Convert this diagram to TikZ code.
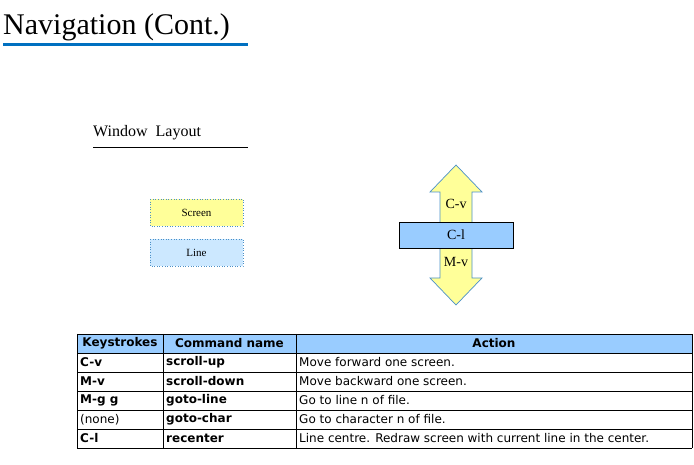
\documentclass[tikz,border=0pt]{standalone}
\usepackage{fontspec}
\setmainfont{Liberation Serif}
\newfontfamily\tabfont{DejaVu Sans}
\definecolor{ttlblue}{HTML}{0070C0}
\definecolor{hdrblue}{HTML}{99CCFF}
\definecolor{ylw}{HTML}{FFFF99}
\definecolor{lblue}{HTML}{CCE8FF}
\definecolor{edgeblue}{HTML}{4A90C8}
\begin{document}
\begin{tikzpicture}[x=1pt,y=-1pt,
  lbox/.style={draw=edgeblue,dotted,line width=0.6pt},
  cell/.style={anchor=west,font=\tabfont\fontsize{12}{14}\selectfont,inner sep=0pt},
  bcell/.style={cell,font=\tabfont\bfseries\fontsize{12}{14}\selectfont},
  hcell/.style={anchor=center,font=\tabfont\bfseries\fontsize{12}{14}\selectfont,inner sep=0pt}]
\useasboundingbox (0,0) rectangle (694,465);
\node[anchor=base west,inner sep=0pt,font=\fontsize{30}{32}\selectfont] (title) at (3,35) {Navigation (Cont.)};
\draw[ttlblue,line width=3pt] (3,45) -- (248,45);
\node[anchor=base west,inner sep=0pt,font=\fontsize{16}{18}\selectfont] (wl) at (93,137) {Window\ \ Layout};
\draw[line width=0.6pt] (93,147) -- (248,147);
% legend boxes
\draw[lbox,fill=ylw] (150,199) rectangle (243,226);
\node[font=\fontsize{11}{12}\selectfont] (scr) at (196.5,212.5) {Screen};
\draw[lbox,fill=lblue] (150,239) rectangle (243,266);
\node[font=\fontsize{11}{12}\selectfont] (lin) at (196.5,252.5) {Line};
% double arrow
\draw[draw=edgeblue,fill=ylw,line width=0.7pt] (456,165) -- (482,192) -- (472,192) -- (472,278) -- (482,278) -- (456,305) -- (430,278) -- (440,278) -- (440,192) -- (430,192) -- cycle;
\node[font=\fontsize{14}{16}\selectfont] (cv) at (456,204) {C-v};
\node[font=\fontsize{14}{16}\selectfont] (mv) at (456,262) {M-v};
\draw[fill=hdrblue,line width=0.8pt] (399,222) rectangle (513,248);
\node[font=\fontsize{14}{16}\selectfont] (cl) at (456,235) {C-l};
% table
\fill[hdrblue] (77,334) rectangle (692,353);
\foreach \y in {334,353,372,391,410,429,448} \draw[line width=0.8pt] (77,\y) -- (692,\y);
\foreach \x in {77,163,296,692} \draw[line width=0.8pt] (\x,334) -- (\x,448);
\node[hcell] (h1) at (120,343.5) {Keystrokes};
\node[hcell] (h2) at (229.5,343.5) {Command name};
\node[hcell] (h3) at (494,343.5) {Action};
\node[bcell] (k1) at (80,362.5) {C-v};
\node[bcell] (c1) at (166,362.5) {scroll-up};
\node[cell] (a1) at (299,362.5) {Move forward one screen.};
\node[bcell] (k2) at (80,381.5) {M-v};
\node[bcell] (c2) at (166,381.5) {scroll-down};
\node[cell] (a2) at (299,381.5) {Move backward one screen.};
\node[bcell] (k3) at (80,400.5) {M-g g};
\node[bcell] (c3) at (166,400.5) {goto-line};
\node[cell] (a3) at (299,400.5) {Go to line n of file.};
\node[cell] (k4) at (80,419.5) {(none)};
\node[bcell] (c4) at (166,419.5) {goto-char};
\node[cell] (a4) at (299,419.5) {Go to character n of file.};
\node[bcell] (k5) at (80,438.5) {C-l};
\node[bcell] (c5) at (166,438.5) {recenter};
\node[cell] (a5) at (299,438.5) {Line centre. Redraw screen with current line in the center.};
\end{tikzpicture}
\end{document}
